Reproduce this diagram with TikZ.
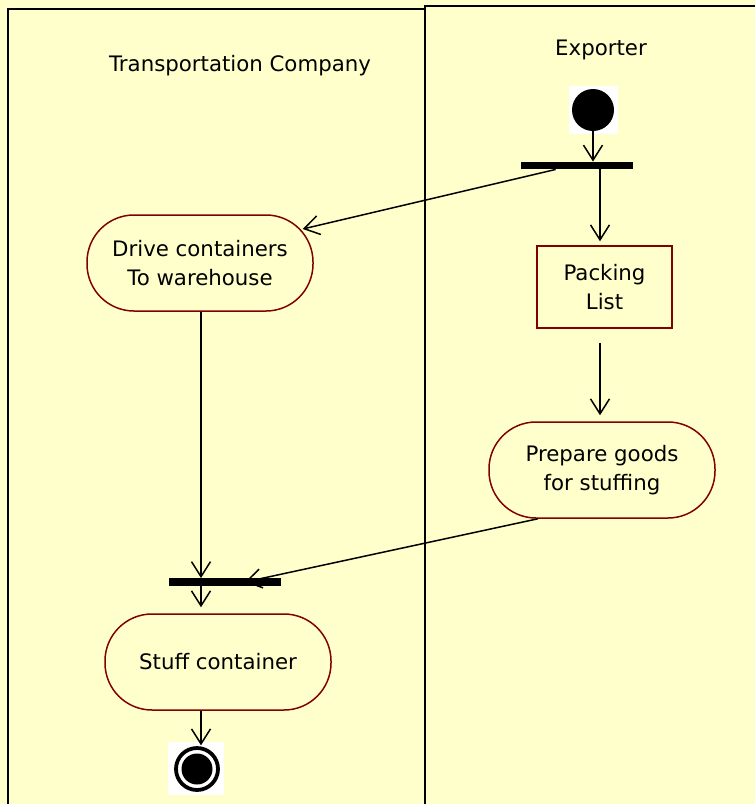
\documentclass[tikz,border=0pt]{standalone}
\usepackage{fontspec}
\setmainfont{DejaVu Sans}
\usepackage{tikz}
\usetikzlibrary{arrows.meta}
\usetikzlibrary{positioning}
\usetikzlibrary{calc}
\tikzset{flow/.style = {-{Straight Barb[length=15pt, width=19pt]}, line width=1.5pt}}
\tikzset{activity/.style = {draw=actred, line width=1.5pt, fill=lanebg, rounded corners=47pt,
                            minimum width=226pt, minimum height=96pt, align=center, inner sep=0pt}}
\tikzset{bar/.style = {fill=black, inner sep=0pt, minimum width=112pt, minimum height=7.5pt}}
\definecolor{lanebg}{RGB}{255, 255, 204}
\definecolor{actred}{RGB}{128, 0, 0}

\begin{document}
\begin{tikzpicture}[x=1pt, y=-1pt, font=\fontsize{21.3}{29}\selectfont]
      \fill [lanebg] (0, 0) rectangle (755, 804);
      \useasboundingbox (0, 0) rectangle (755, 804);

      % swimlanes
      \draw [line width=2pt] (8, 9) rectangle (425, 820);
      \draw [line width=2pt] (425, 6) rectangle (770, 820);
      \node (transTitle) at (240, 66) {Transportation Company};
      \node (expTitle) at (601, 50) {Exporter};

      % start
      \fill [white] (569, 86) rectangle (618, 134);
      \node [circle, fill=black, minimum size=42pt, inner sep=0pt] (start) at (593, 110) {};
      \node [bar] (fork) at (577, 165.5) {};

      \node [activity] (drive) at (200, 263) {Drive containers\\To warehouse};
      \node [draw=actred, line width=1.5pt, fill=lanebg, minimum width=135pt, minimum height=82pt,
             align=center, inner sep=0pt] (packing) at (604.5, 287) {Packing\\ List};
      \node [activity] (prepare) at (602, 470) {Prepare goods\\for stuffing};

      \node [bar] (join) at (225, 582) {};
      \node [activity] (stuff) at (218, 662) {Stuff container};

      % end
      \fill [white] (168, 742) rectangle (224, 795);
      \node [circle, fill=black, minimum size=31pt, inner sep=0pt] (finish) at (197, 769) {};
      \draw [line width=3.8pt] (finish.center) circle [radius=21pt];

      \coordinate (spine) at (201, 0);
      \coordinate (packX) at (600, 0);

      \draw [flow] (start.south) -- (start.south |- fork.north);
      \draw [flow] ($(fork.south west)!0.31!(fork.south east)$) -- ($(drive.east)+(-11, -34)$);
      \draw [flow] (packX |- fork.south) -- ($(packX |- packing.north)+(0, -4)$);
      \draw [flow] ($(packX |- packing.south)+(0, 14)$) -- ($(packX |- prepare.north)+(0, -6)$);
      \draw [flow] ($(prepare.south)+(-64, 0)$) -- ($(join.center)+(20, 0)$);
      \draw [flow] (spine |- drive.south) -- (spine |- join.north);
      \draw [flow] (spine |- join.south) -- ($(spine |- stuff.north)+(0, -6)$);
      \draw [flow] (spine |- stuff.south) -- ($(spine |- finish.north)+(0, -8)$);
    \end{tikzpicture}
\end{document}
